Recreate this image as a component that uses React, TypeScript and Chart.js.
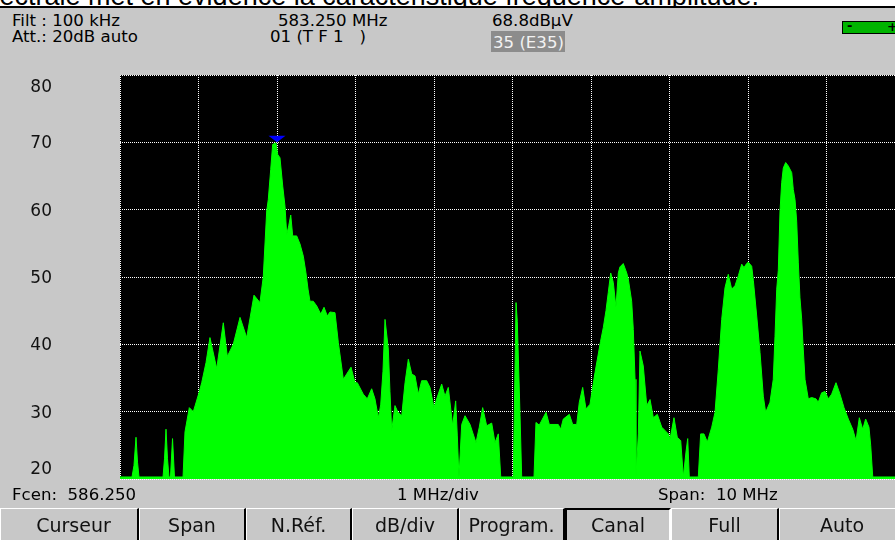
import React, { useEffect, useRef } from "react";
import { Chart, registerables } from "chart.js";

Chart.register(...registerables);

// ---- data ----
const centerFreqMHz = 586.25;
const spanMHz = 10;
const startFreqMHz = centerFreqMHz - spanMHz / 2;

// frequency offset from the left edge of the screen (MHz)
const freqOffsetMHz = [
  0, 0.153, 0.178, 0.204, 0.223, 0.242, 0.548, 0.567, 0.586, 0.605, 0.624, 0.643, 0.669, 0.694,
  0.803, 0.828, 0.883, 0.934, 1.006, 1.041, 1.096, 1.146, 1.232, 1.316, 1.367, 1.443, 1.529, 1.614,
  1.707, 1.783, 1.825, 1.869, 1.889, 1.92, 1.945, 1.987, 2.009, 2.038, 2.073, 2.102, 2.124, 2.149,
  2.175, 2.2, 2.251, 2.293, 2.335, 2.369, 2.395, 2.42, 2.462, 2.506, 2.557, 2.599, 2.641, 2.675,
  2.739, 2.781, 2.845, 2.888, 2.943, 2.994, 3.023, 3.099, 3.15, 3.206, 3.248, 3.291, 3.321, 3.35,
  3.376, 3.418, 3.439, 3.461, 3.503, 3.541, 3.589, 3.631, 3.673, 3.716, 3.758, 3.8, 3.843, 3.907,
  3.949, 4.0, 4.034, 4.098, 4.14, 4.182, 4.238, 4.276, 4.297, 4.318, 4.353, 4.395, 4.459, 4.535,
  4.577, 4.62, 4.671, 4.735, 4.777, 4.819, 4.85, 5.01, 5.045, 5.061, 5.096, 5.117, 5.274, 5.299,
  5.341, 5.427, 5.469, 5.583, 5.614, 5.647, 5.724, 5.767, 5.818, 5.851, 5.894, 5.936, 5.987, 6.051,
  6.121, 6.157, 6.191, 6.22, 6.251, 6.284, 6.318, 6.348, 6.369, 6.411, 6.455, 6.475, 6.518, 6.539,
  6.561, 6.573, 6.603, 6.624, 6.666, 6.71, 6.752, 6.794, 6.845, 6.901, 6.985, 7.006, 7.057, 7.099,
  7.143, 7.176, 7.21, 7.232, 7.252, 7.367, 7.397, 7.439, 7.482, 7.538, 7.58, 7.622, 7.665, 7.707,
  7.749, 7.792, 7.834, 7.877, 7.92, 7.949, 7.983, 8.004, 8.047, 8.068, 8.111, 8.153, 8.195, 8.225,
  8.28, 8.322, 8.344, 8.366, 8.386, 8.408, 8.429, 8.45, 8.48, 8.513, 8.557, 8.577, 8.599, 8.62,
  8.641, 8.662, 8.684, 8.704, 8.726, 8.768, 8.811, 8.866, 8.895, 8.938, 8.981, 9.023, 9.066, 9.121,
  9.172, 9.223, 9.278, 9.334, 9.376, 9.418, 9.461, 9.499, 9.541, 9.563, 9.589, 10,
];

// level (dBµV)
const levelDbuV = [
  20.3, 20.3, 22, 26.2, 22.5, 20.3, 20.3, 23, 27.4, 23, 20.3, 20.3, 26.0, 20.3,
  20.3, 27, 30.6, 30.0, 32.8, 34.3, 37.3, 41.0, 36.4, 43.2, 38.2, 40, 44.0, 41.0,
  47.3, 46.2, 50, 59.8, 61.5, 66, 69.7, 69.9, 68.2, 67.7, 63.5, 60.5, 56.3, 57.6,
  59.2, 56.1, 56.1, 54.9, 53.1, 50.6, 48.2, 46.4, 46.4, 45.7, 44.5, 45.5, 44.2, 44.8,
  44.7, 40.3, 34.8, 35.6, 36.6, 34.3, 34.3, 32.6, 31.9, 33.4, 31.9, 29.1, 31, 36,
  43.7, 39.3, 33, 27.2, 30.9, 29.9, 29.4, 34.3, 37.8, 35.6, 35.3, 32.6, 34.6, 34.6,
  33.6, 30.6, 31.9, 34.1, 32.3, 33.6, 27.9, 31.6, 26.4, 20.2, 28.1, 29.4, 28.1, 25.4,
  27.7, 30.6, 27.9, 28.3, 25.4, 26.7, 20.3, 20.3, 46.2, 43.4, 29.4, 20.3, 20.3, 28.4,
  28.0, 29.9, 28.1, 28.1, 27.4, 28.9, 29.6, 28.1, 28.1, 31.4, 33.6, 30.4, 31.1, 35.8,
  40.4, 42.5, 45, 47.7, 50.6, 49.2, 45.5, 50.6, 51.5, 52.0, 50.6, 49.7, 46.4, 42.2,
  34.8, 20.3, 26.7, 39.0, 36.8, 30.9, 31.8, 29.1, 29.6, 27.7, 26.7, 25.9, 29.1, 26.2,
  25.7, 20.3, 24.0, 26.0, 20.3, 20.3, 26.7, 26.7, 25.5, 27.7, 29.9, 36.3, 43.7, 48.4,
  50.4, 48.2, 48.7, 50.2, 51.9, 51.4, 52.0, 52.2, 51.6, 49.5, 44.2, 38.8, 32.3, 29.9,
  31.4, 34.8, 41.2, 48.2, 51, 59.8, 64.0, 66.2, 67.0, 66.5, 65.5, 63.0, 61.5, 58.3,
  52.1, 46.9, 43.7, 39.3, 34.8, 31.9, 32.1, 31.9, 31.4, 32.8, 33.0, 31.9, 32.6, 34.3,
  32.6, 30.6, 28.9, 27.4, 25.7, 29.1, 27.4, 28.9, 27.7, 25.0, 20.3, 20.3,
];

const xDivisionsMHz = [0, 1, 2, 3, 4, 5, 6, 7, 8, 9, 10];
const yTicksDb = [20, 30, 40, 50, 60, 70, 80];
const markerFreqMHz = 583.25;
const markerLevelDbuV = 70;

const captionText = "spectrale met en évidence la caractéristique fréquence-amplitude.";
const headerFilter = "Filt : 100 kHz";
const headerAtt = "Att.: 20dB auto";
const headerFreq = "583.250 MHz";
const headerProgram = "01 (T F 1   )";
const headerLevel = "68.8dBµV";
const headerChannel = "35 (E35)";
const footerCenter = "Fcen:  586.250";
const footerDiv = "1 MHz/div";
const footerSpan = "Span:  10 MHz";
const buttonLabels = ["Curseur", "Span", "N.Réf.", "dB/div", "Program.", "Canal", "Full", "Auto"];
const activeButton = "Canal";

// ---- layout (not data) ----
const buttonWidths = [139, 107, 106, 107, 106, 106, 108, 127];
const FONT = '"DejaVu Sans", sans-serif';
const GRAY = "#c8c8c8";

export default function App() {
  const canvasRef = useRef<HTMLCanvasElement | null>(null);

  useEffect(() => {
    const canvas = canvasRef.current;
    if (!canvas) return;

    const bgPlugin = {
      id: "plotBg",
      beforeDraw(chart: any) {
        const { ctx, chartArea: a } = chart;
        ctx.save();
        ctx.fillStyle = "#000000";
        ctx.fillRect(a.left, a.top, a.right - a.left, a.bottom - a.top);
        ctx.restore();
      },
    };

    const overlayPlugin = {
      id: "overlay",
      afterDraw(chart: any) {
        const { ctx, chartArea: a } = chart;
        const xs = chart.scales.x;
        const ys = chart.scales.y;
        ctx.save();
        // marker
        const mx = xs.getPixelForValue(markerFreqMHz);
        const my = ys.getPixelForValue(markerLevelDbuV);
        ctx.fillStyle = "#0000ff";
        ctx.beginPath();
        ctx.moveTo(mx - 8.5, my - 6.5);
        ctx.lineTo(mx + 8.5, my - 6.5);
        ctx.lineTo(mx, my);
        ctx.closePath();
        ctx.fill();
        // y labels
        ctx.fillStyle = "#111111";
        ctx.font = "17px " + FONT;
        ctx.textAlign = "right";
        ctx.textBaseline = "middle";
        yTicksDb.forEach((v) => {
          let y = ys.getPixelForValue(v) + 1.5;
          y = Math.min(Math.max(y, a.top + 13), a.bottom - 9);
          ctx.fillText(String(v), 52, y);
        });
        ctx.restore();
      },
    };

    const points = freqOffsetMHz.map((f, i) => ({ x: startFreqMHz + f, y: levelDbuV[i] }));

    const chart = new Chart(canvas, {
      type: "line",
      data: {
        datasets: [
          {
            data: points,
            borderColor: "#00ff00",
            backgroundColor: "#00ff00",
            borderWidth: 1,
            fill: "start",
            pointRadius: 0,
            tension: 0,
          },
        ],
      },
      options: {
        animation: false,
        responsive: true,
        maintainAspectRatio: false,
        events: [],
        layout: { padding: { top: 15, bottom: 11, left: 0, right: 0 } },
        plugins: { legend: { display: false }, tooltip: { enabled: false }, title: { display: false } },
        scales: {
          x: {
            type: "linear",
            min: startFreqMHz,
            max: startFreqMHz + spanMHz,
            z: 1,
            afterBuildTicks: (s: any) => {
              s.ticks = xDivisionsMHz.map((d) => ({ value: startFreqMHz + d }));
            },
            afterFit: (s: any) => {
              s.height = 0;
            },
            ticks: { display: false },
            grid: { color: "#ffffff", drawTicks: false, lineWidth: 1 },
            border: { display: false, dash: [1, 1] },
          },
          y: {
            type: "linear",
            min: yTicksDb[0],
            max: yTicksDb[yTicksDb.length - 1],
            z: 1,
            afterBuildTicks: (s: any) => {
              s.ticks = yTicksDb.map((v) => ({ value: v }));
            },
            afterFit: (s: any) => {
              s.width = 120;
            },
            ticks: { display: false },
            grid: { color: "#ffffff", drawTicks: false, lineWidth: 1 },
            border: { display: false, dash: [1, 1] },
          },
        },
      } as any,
      plugins: [bgPlugin, overlayPlugin],
    });

    return () => chart.destroy();
  }, []);

  const txt = (left: number, top: number, s: string, extra: React.CSSProperties = {}) => (
    <div
      style={{
        position: "absolute",
        left,
        top,
        fontFamily: FONT,
        fontSize: 16.6,
        lineHeight: "16px",
        whiteSpace: "pre",
        color: "#000",
        ...extra,
      }}
    >
      {s}
    </div>
  );

  return (
    <div style={{ position: "fixed", left: 0, top: 0, width: 895, height: 540, overflow: "hidden", background: GRAY }}>
      <div style={{ position: "absolute", left: 0, top: 0, width: 906, height: 540, background: GRAY }}>
        {/* cut caption strip */}
        <div style={{ position: "absolute", left: 0, top: 0, width: 906, height: 6, background: "#fff", overflow: "hidden" }}>
          <div
            style={{
              position: "absolute",
              left: -29,
              top: -17,
              fontFamily: '"Liberation Sans", Arial, sans-serif',
              fontSize: 27,
              lineHeight: "27px",
              whiteSpace: "nowrap",
              color: "#000",
            }}
          >
            {captionText}
          </div>
        </div>
        <div style={{ position: "absolute", left: 0, top: 6, width: 906, height: 2, background: "#000" }} />

        {/* header */}
        {txt(12, 12.5, headerFilter)}
        {txt(12, 29, headerAtt)}
        {txt(278, 12.5, headerFreq)}
        {txt(270, 29, headerProgram)}
        {txt(492, 12.5, headerLevel)}
        <div style={{ position: "absolute", left: 491, top: 31, width: 74, height: 21, background: "#8c8c8c" }} />
        {txt(493, 34.5, headerChannel, { color: "#f2f2f2" })}

        {/* level indicator */}
        <div
          style={{
            position: "absolute",
            left: 842,
            top: 21,
            width: 56,
            height: 13,
            boxSizing: "border-box",
            border: "1px solid #000",
            background: "#00b400",
          }}
        >
          <span style={{ position: "absolute", left: 4, top: -3, fontFamily: FONT, fontSize: 13, lineHeight: "13px", fontWeight: "bold" }}>-</span>
          <span style={{ position: "absolute", left: 44, top: -2, fontFamily: FONT, fontSize: 13, lineHeight: "13px", fontWeight: "bold" }}>+</span>
        </div>

        {/* chart */}
        <div style={{ position: "absolute", left: 0, top: 60, width: 905, height: 430 }}>
          <canvas ref={canvasRef} />
        </div>

        {/* footer */}
        {txt(12, 487, footerCenter)}
        {txt(397, 487, footerDiv)}
        {txt(658, 487, footerSpan)}

        {/* buttons */}
        <div style={{ position: "absolute", left: 0, top: 508, height: 32, display: "flex" }}>
          {buttonLabels.map((b, i) => {
            const active = b === activeButton;
            return (
              <div
                key={b}
                style={{
                  width: buttonWidths[i],
                  height: 32,
                  boxSizing: "border-box",
                  borderTop: active ? "2px solid #000" : "1px solid #fff",
                  borderLeft: active ? "2px solid #000" : "1px solid #fff",
                  borderRight: active ? "2px solid #fff" : "2px solid #000",
                  paddingTop: active ? 6 : 7,
                  paddingLeft: i === 0 ? 9 : 0,
                  textAlign: "center",
                  fontFamily: FONT,
                  fontSize: 19,
                  lineHeight: "19px",
                  color: "#111",
                  whiteSpace: "nowrap",
                }}
              >
                {b}
              </div>
            );
          })}
        </div>
      </div>
    </div>
  );
}
